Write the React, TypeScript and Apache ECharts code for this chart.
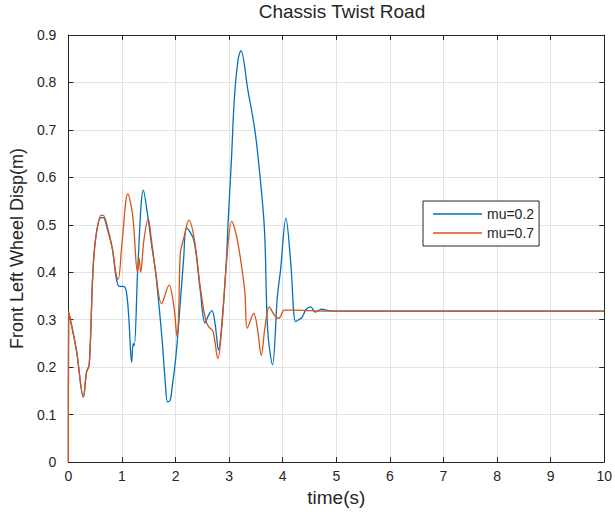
import React, { useEffect, useRef } from "react";
import * as echarts from "echarts";

const titleText = "Chassis Twist Road";
const xLabel = "time(s)";
const yLabel = "Front Left Wheel Disp(m)";
const seriesNames = ["mu=0.2", "mu=0.7"];

const blueTime = [0, 0.005, 0.15, 0.28, 0.34, 0.39, 0.46, 0.52, 0.61, 0.65, 0.73, 0.82, 0.89, 0.95, 1.02, 1.08, 1.13, 1.18, 1.21, 1.23, 1.3, 1.4, 1.48, 1.55, 1.63, 1.75, 1.81, 1.85, 1.9, 1.94, 2.0, 2.06, 2.15, 2.21, 2.34, 2.46, 2.55, 2.62, 2.68, 2.74, 2.8, 2.89, 2.95, 2.98, 3.04, 3.1, 3.17, 3.22, 3.35, 3.48, 3.57, 3.66, 3.72, 3.81, 3.9, 3.96, 4.06, 4.15, 4.24, 4.3, 4.36, 4.44, 4.52, 4.61, 4.73, 4.85, 5, 6, 7, 8, 9, 10];
const blueDisp = [0, 0.317, 0.236, 0.137, 0.19, 0.205, 0.405, 0.48, 0.515, 0.515, 0.49, 0.45, 0.39, 0.37, 0.37, 0.36, 0.3, 0.21, 0.25, 0.245, 0.42, 0.573, 0.52, 0.46, 0.398, 0.257, 0.166, 0.127, 0.13, 0.16, 0.215, 0.293, 0.426, 0.493, 0.468, 0.363, 0.293, 0.31, 0.319, 0.29, 0.236, 0.327, 0.426, 0.503, 0.63, 0.77, 0.85, 0.867, 0.784, 0.7, 0.61, 0.489, 0.278, 0.205, 0.348, 0.405, 0.514, 0.42, 0.296, 0.3, 0.305, 0.322, 0.327, 0.316, 0.322, 0.319, 0.318, 0.318, 0.318, 0.318, 0.318, 0.318];

const orangeTime = [0, 0.005, 0.15, 0.28, 0.34, 0.39, 0.46, 0.52, 0.61, 0.65, 0.73, 0.82, 0.9, 0.93, 1.0, 1.11, 1.2, 1.29, 1.32, 1.35, 1.41, 1.49, 1.55, 1.63, 1.74, 1.88, 1.97, 2.03, 2.06, 2.09, 2.15, 2.25, 2.35, 2.46, 2.56, 2.62, 2.7, 2.79, 2.86, 2.95, 3.05, 3.15, 3.29, 3.34, 3.46, 3.53, 3.6, 3.67, 3.75, 3.84, 3.9, 3.95, 4.03, 4.2, 4.5, 5, 6, 7, 8, 9, 10];
const orangeDisp = [0, 0.317, 0.236, 0.137, 0.19, 0.205, 0.405, 0.48, 0.52, 0.52, 0.495, 0.45, 0.39, 0.385, 0.46, 0.565, 0.52, 0.4, 0.43, 0.4, 0.468, 0.513, 0.468, 0.4, 0.334, 0.373, 0.327, 0.264, 0.32, 0.44, 0.47, 0.51, 0.47, 0.37, 0.3, 0.285, 0.275, 0.218, 0.278, 0.42, 0.507, 0.47, 0.363, 0.282, 0.313, 0.28, 0.225, 0.285, 0.327, 0.31, 0.303, 0.305, 0.32, 0.32, 0.319, 0.318, 0.318, 0.318, 0.318, 0.318, 0.318];

const xMin = 0, xMax = 10, xStep = 1;
const yMin = 0, yMax = 0.9, yStep = 0.1;

const zip = (a: number[], b: number[]) => a.map((t, i) => [t, b[i]]);

export default function App() {
  const ref = useRef<HTMLDivElement>(null);
  useEffect(() => {
    if (!ref.current) return;
    const chart = echarts.init(ref.current, undefined, { renderer: "svg" });
    const axisColor = "#262626";
    const gridColor = "#e3e3e3";
    const font = "Liberation Sans, Arial, sans-serif";
    const tickFont = { fontFamily: font, fontSize: 14, color: axisColor };
    const baseX = { type: "value", min: xMin, max: xMax, interval: xStep };
    const baseY = { type: "value", min: yMin, max: yMax, interval: yStep };
    chart.setOption({
      animation: false,
      backgroundColor: "#ffffff",
      title: {
        text: titleText,
        left: 337,
        top: -3,
        textAlign: "center",
        textStyle: { fontFamily: font, fontSize: 19, fontWeight: "normal", color: axisColor },
      },
      legend: {
        data: seriesNames,
        orient: "vertical",
        left: 423,
        top: 201,
        itemWidth: 49,
        itemHeight: 1.5,
        itemGap: 5,
        icon: "rect",
        padding: [6, 5, 6, 10],
        borderColor: "#262626",
        borderWidth: 1,
        backgroundColor: "#ffffff",
        textStyle: { fontFamily: font, fontSize: 14, color: axisColor },
      },
      grid: { left: 65, right: 9, top: 35, bottom: 54, containLabel: false },
      xAxis: [
        {
          ...baseX,
          position: "bottom",
          name: xLabel,
          nameLocation: "middle",
          nameGap: 25,
          nameTextStyle: { fontFamily: font, fontSize: 19, color: axisColor },
          axisLine: { show: true, onZero: false, lineStyle: { color: axisColor, width: 1 } },
          axisTick: { show: true, inside: true, length: 5, lineStyle: { color: axisColor } },
          axisLabel: { ...tickFont, margin: 7, showMaxLabel: true, showMinLabel: true },
          splitLine: { show: true, lineStyle: { color: gridColor, width: 1 } },
        },
        {
          ...baseX,
          position: "top",
          axisLine: { show: true, onZero: false, lineStyle: { color: axisColor, width: 1 } },
          axisTick: { show: true, inside: true, length: 5, lineStyle: { color: axisColor } },
          axisLabel: { show: false },
          splitLine: { show: false },
        },
      ],
      yAxis: [
        {
          ...baseY,
          position: "left",
          name: yLabel,
          nameLocation: "middle",
          nameGap: 37,
          nameRotate: 90,
          nameTextStyle: { fontFamily: font, fontSize: 18, color: axisColor },
          axisLine: { show: true, onZero: false, lineStyle: { color: axisColor, width: 1 } },
          axisTick: { show: true, inside: true, length: 5, lineStyle: { color: axisColor } },
          axisLabel: { ...tickFont, margin: 12, formatter: (v: number) => String(Math.round(v * 10) / 10) },
          splitLine: { show: true, lineStyle: { color: gridColor, width: 1 } },
        },
        {
          ...baseY,
          position: "right",
          axisLine: { show: true, onZero: false, lineStyle: { color: axisColor, width: 1 } },
          axisTick: { show: true, inside: true, length: 5, lineStyle: { color: axisColor } },
          axisLabel: { show: false },
          splitLine: { show: false },
        },
      ],
      series: [
        {
          name: seriesNames[0],
          type: "line",
          data: zip(blueTime, blueDisp),
          showSymbol: false,
          smooth: 0.35,
          lineStyle: { color: "#0072BD", width: 1.3 },
          itemStyle: { color: "#0072BD" },
          z: 2,
        },
        {
          name: seriesNames[1],
          type: "line",
          data: zip(orangeTime, orangeDisp),
          showSymbol: false,
          smooth: 0.35,
          lineStyle: { color: "#D95319", width: 1.3 },
          itemStyle: { color: "#D95319" },
          z: 3,
        },
      ],
    });
    return () => chart.dispose();
  }, []);
  return <div ref={ref} style={{ width: 615, height: 516, position: "absolute", left: 0, top: 0 }} />;
}
